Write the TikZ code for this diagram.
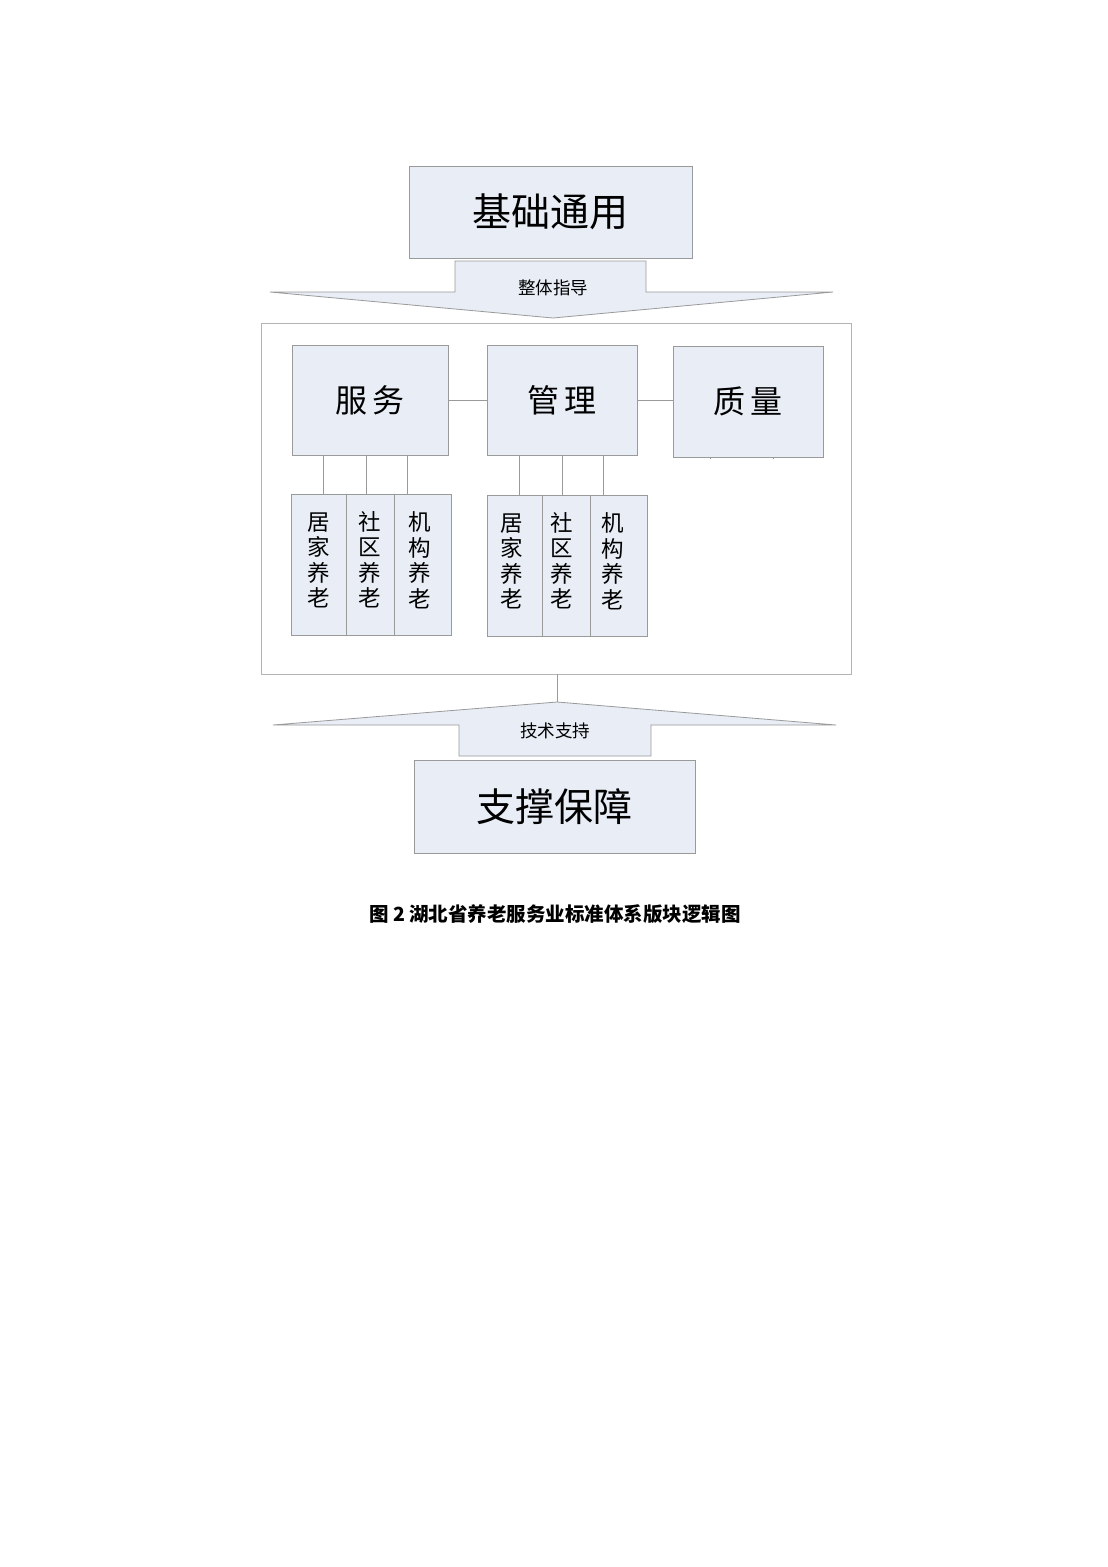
\documentclass[tikz,border=0pt]{standalone}
\usepackage{fontspec}
\newfontfamily\cjk{Noto Sans CJK SC}
\definecolor{boxfill}{HTML}{E8EDF6}
\definecolor{boxline}{HTML}{9A9A9A}
\definecolor{frameline}{HTML}{B4B4B4}
\tikzset{
  box/.style={draw=boxline, fill=boxfill, line width=0.9pt, inner sep=0pt, font=\cjk},
  bigbox/.style={box, font=\cjk\fontsize{39}{42}\selectfont},
  midbox/.style={box, font=\cjk\fontsize{32}{36}\selectfont},
  subtext/.style={inner sep=0pt, align=center, font=\cjk\fontsize{22.5}{25.5}\selectfont},
  arrowshape/.style={draw=boxline, fill=boxfill, line width=0.8pt, line join=miter},
  lbl/.style={font=\cjk\fontsize{17.5}{20}\selectfont, inner sep=0pt},
  link/.style={draw=boxline, line width=0.8pt},
}
\begin{document}
\begin{tikzpicture}[x=1pt,y=-1pt]
\useasboundingbox (0,0) rectangle (1108,1567);
\fill[white] (0,0) rectangle (1108,1567);

% top box
\node[bigbox, minimum width=283pt, minimum height=92pt] (jc) at (550.5,212) {基础通用};

% down arrow
\coordinate (d1) at (455,261);
\coordinate (d2) at (646,261);
\coordinate (dtip) at (553,318);
\draw[arrowshape] (d1) -- (d2) -- (646,292) -- (833,292) -- (dtip) -- (270,292) -- (455,292) -- cycle;
\node[lbl] (ztzd) at (553,288) {整体指导};

% container
\draw[draw=frameline, line width=0.9pt] (261,323) rectangle (851,674);
\coordinate (cbot) at (557,674);

% middle boxes
\node[midbox, minimum width=156pt, minimum height=110pt] (fw) at (370,400) {服\hspace{5pt}务};
\node[midbox, minimum width=150pt, minimum height=110pt] (gl) at (562,400) {管\hspace{5pt}理};
\node[midbox, minimum width=150pt, minimum height=111pt] (zl) at (748,401.5) {质\hspace{5pt}量};
\draw[link] (fw.east) -- (gl.west);
\draw[link] (gl.east) -- (gl.east -| zl.west);
% tiny stubs under 质量
\draw[link] ([xshift=-38pt]zl.south) -- ++(0,2);
\draw[link] ([xshift=25pt]zl.south) -- ++(0,2);

% sub boxes left
\node[box, minimum width=55pt, minimum height=141pt] (a1) at (318.5,564.5) {};
\node[box, minimum width=48pt, minimum height=141pt] (a2) at (370,564.5) {};
\node[box, minimum width=57pt, minimum height=141pt] (a3) at (422.5,564.5) {};
% sub boxes right
\node[box, minimum width=55pt, minimum height=141pt] (b1) at (514.5,565.5) {};
\node[box, minimum width=48pt, minimum height=141pt] (b2) at (566,565.5) {};
\node[box, minimum width=57pt, minimum height=141pt] (b3) at (618.5,565.5) {};

\node[subtext] (ta1) at ([yshift=4pt]a1.center) {居\\家\\养\\老};
\node[subtext] (ta2) at ([yshift=5pt]a2.center) {社\\区\\养\\老};
\node[subtext] (ta3) at ([xshift=-3pt,yshift=4pt]a3.center) {机\\构\\养\\老};
\node[subtext] (tb1) at ([xshift=-3pt,yshift=4pt]b1.center) {居\\家\\养\\老};
\node[subtext] (tb2) at ([xshift=-4pt,yshift=5pt]b2.center) {社\\区\\养\\老};
\node[subtext] (tb3) at ([xshift=-6pt,yshift=4pt]b3.center) {机\\构\\养\\老};

\draw[link] ([xshift=4.5pt]a1.north) -- ([xshift=4.5pt]a1.north |- fw.south);
\draw[link] ([xshift=-4pt]a2.north) -- ([xshift=-4pt]a2.north |- fw.south);
\draw[link] ([xshift=-15.5pt]a3.north) -- ([xshift=-15.5pt]a3.north |- fw.south);
\draw[link] ([xshift=4.5pt]b1.north) -- ([xshift=4.5pt]b1.north |- gl.south);
\draw[link] ([xshift=-4pt]b2.north) -- ([xshift=-4pt]b2.north |- gl.south);
\draw[link] ([xshift=-15.5pt]b3.north) -- ([xshift=-15.5pt]b3.north |- gl.south);

% up arrow
\coordinate (utip) at (557,702);
\draw[link] (cbot) -- (utip);
\draw[arrowshape] (utip) -- (836,725) -- (651,725) -- (651,756) -- (459,756) -- (459,725) -- (273,725) -- cycle;
\node[lbl] (jszc) at (555,731) {技术支持};

% bottom box
\node[bigbox, minimum width=281pt, minimum height=93pt] (zc) at (554.5,806.5) {支撑保障};

% caption
\node[font=\cjk\bfseries\fontsize{19.5}{22}\selectfont, inner sep=0pt] (cap) at (555,914) {图 2 湖北省养老服务业标准体系版块逻辑图};
\end{tikzpicture}
\end{document}
